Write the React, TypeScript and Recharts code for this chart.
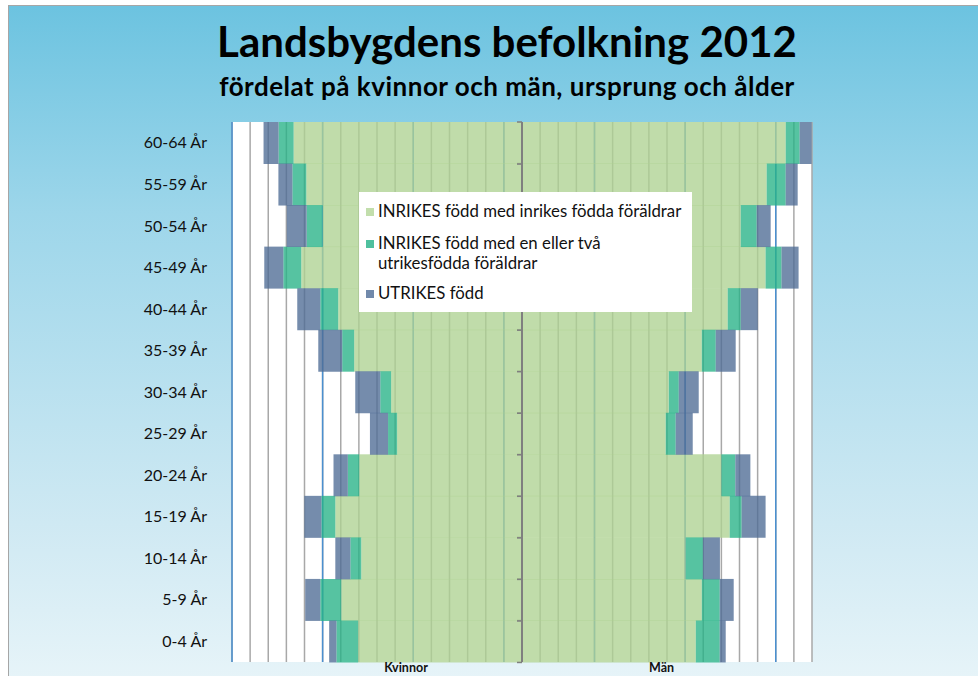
import React from 'react';
import {
  BarChart,
  Bar,
  XAxis,
  YAxis,
  CartesianGrid,
  ReferenceLine,
  Legend,
} from 'recharts';

const ageGroups = [
  '0-4 År', '5-9 År', '10-14 År', '15-19 År', '20-24 År', '25-29 År', '30-34 År',
  '35-39 År', '40-44 År', '45-49 År', '50-54 År', '55-59 År', '60-64 År',
];

// values, one grid step = 1
const womenNative = [9.04, 9.97, 8.87, 10.3, 8.98, 6.89, 7.22, 9.26, 10.14, 12.18, 11.0, 11.9, 12.6];
const womenMixed = [1.2, 1.16, 0.6, 0.77, 0.63, 0.5, 0.6, 0.66, 0.99, 0.99, 0.88, 0.77, 0.83];
const womenForeign = [0.4, 0.83, 0.83, 0.94, 0.79, 1.0, 1.38, 1.32, 1.27, 1.05, 1.1, 0.77, 0.83];

const menNative = [9.59, 9.92, 9.04, 11.46, 11.0, 7.93, 8.1, 9.92, 11.35, 13.44, 12.07, 13.5, 14.55];
const menMixed = [1.32, 0.99, 0.94, 0.66, 0.77, 0.55, 0.55, 0.77, 0.72, 0.88, 0.88, 1.05, 0.77];
const menForeign = [0.33, 0.77, 0.94, 1.32, 0.83, 0.94, 1.1, 1.1, 0.94, 0.94, 0.77, 0.66, 0.66];

const seriesNames = [
  'INRIKES född med inrikes födda föräldrar',
  'INRIKES född med en eller två utrikesfödda föräldrar',
  'UTRIKES född',
];
const seriesColors = ['#aed292', '#26b286', '#4e6c95'];
const legendColors = ['#c2deac', '#4fc09e', '#7189ab'];

const xDomain = [-16, 16];
const minorTicks = Array.from({ length: 33 }, (_, i) => i - 16);
const majorTicks = [-16, -11, -6, -1, 4, 9, 14];
const sideLabels = ['Kvinnor', 'Män'];
const sideTicks = [-6.4, 7.7];

const data = ageGroups.map((age, i) => ({
  age,
  wN: -womenNative[i],
  wM: -womenMixed[i],
  wF: -womenForeign[i],
  mN: menNative[i],
  mM: menMixed[i],
  mF: menForeign[i],
}));

const FONT = "Lato, 'Open Sans', sans-serif";
const BAR_OPACITY = 0.78;

// map grid values through the x axis scale (fallback: plot offset)
const gridAt = (values: number[]) => (props: any) => {
  const { xAxis, offset } = props;
  if (xAxis && typeof xAxis.scale === 'function') {
    return values.map((v) => xAxis.scale(v));
  }
  return values.map(
    (v) => offset.left + ((v - xDomain[0]) / (xDomain[1] - xDomain[0])) * offset.width,
  );
};

// innermost women bar also draws the small tick marks on the centre axis
const CenterTickBar = (props: any) => {
  const { x, y, width, height, fill, fillOpacity } = props;
  const left = Math.min(x, x + width);
  const w = Math.abs(width);
  const zero = left + w;
  return (
    <g>
      <rect x={left} y={y} width={w} height={height} fill={fill} fillOpacity={fillOpacity} />
      <line x1={zero - 5} y1={y} x2={zero} y2={y} stroke="#7f7f7f" strokeWidth={1.5} />
      <line x1={zero - 5} y1={y + height} x2={zero} y2={y + height} stroke="#7f7f7f" strokeWidth={1.5} />
    </g>
  );
};

const LegendBox = () => (
  <div
    style={{
      background: '#fff',
      width: 333,
      height: 120,
      boxSizing: 'border-box',
      padding: '9px 2px 0 7px',
      fontFamily: FONT,
      fontSize: 16.8,
      color: '#111',
      lineHeight: '20px',
    }}
  >
    {seriesNames.map((name, i) => (
      <div key={name} style={{ display: 'flex', alignItems: 'flex-start', marginBottom: i === 1 ? 10 : 12 }}>
        <span
          style={{
            display: 'inline-block',
            width: 8,
            height: 8,
            background: legendColors[i],
            marginTop: 7,
            marginRight: 4,
            flex: 'none',
          }}
        />
        <span style={{ width: i === 1 ? 250 : 322, whiteSpace: i === 1 ? 'normal' : 'nowrap' }}>{name}</span>
      </div>
    ))}
  </div>
);

export default function App() {
  return (
    <div
      style={{
        position: 'absolute',
        left: 0,
        top: 0,
        width: 978,
        height: 676,
        overflow: 'hidden',
        background: '#fff',
      }}
    >
      <div
        style={{
          position: 'absolute',
          left: 8,
          top: 5,
          width: 990,
          height: 690,
          border: '1px solid #a6a6a6',
          background: 'linear-gradient(180deg, #6cc3e0 0%, #9dd6ea 30%, #cfe9f3 75%, #e9f5f9 100%)',
        }}
      />
      <div
        style={{
          position: 'absolute',
          left: 0,
          top: 16,
          width: 1014,
          textAlign: 'center',
          fontFamily: FONT,
          fontWeight: 700,
          fontSize: 42,
          color: '#000',
        }}
      >
        Landsbygdens befolkning 2012
      </div>
      <div
        style={{
          position: 'absolute',
          left: 0,
          top: 70,
          width: 1014,
          textAlign: 'center',
          fontFamily: FONT,
          fontWeight: 700,
          fontSize: 26,
          letterSpacing: 0.5,
          color: '#000',
        }}
      >
        fördelat på kvinnor och män, ursprung och ålder
      </div>
      <div style={{ position: 'absolute', left: 0, top: 0 }}>
        <BarChart
          width={978}
          height={676}
          data={data}
          layout="vertical"
          stackOffset="sign"
          barCategoryGap={0}
          margin={{ top: 122, right: 166, bottom: 0, left: 0 }}
        >
          <XAxis
            type="number"
            domain={xDomain}
            ticks={sideTicks}
            tickFormatter={(v: number) => sideLabels[sideTicks.indexOf(v)]}
            axisLine={false}
            tickLine={false}
            tickSize={0}
            tickMargin={1}
            height={14}
            interval={0}
            tick={{ fontFamily: FONT, fontWeight: 700, fontSize: 12.5, fill: '#111' }}
          />
          <YAxis
            type="category"
            dataKey="age"
            reversed
            width={232}
            axisLine={false}
            tickLine={false}
            tickSize={0}
            tickMargin={25}
            interval={0}
            tick={{ fontFamily: FONT, fontSize: 16, fill: '#111' }}
          />
          <CartesianGrid
            horizontal={false}
            stroke="#a8a8a8"
            strokeWidth={1.5}
            fill="#fff"
            verticalCoordinatesGenerator={gridAt(minorTicks)}
          />
          <CartesianGrid
            horizontal={false}
            stroke="#4a90d0"
            strokeWidth={1.5}
            verticalCoordinatesGenerator={gridAt(majorTicks)}
          />
          <Bar dataKey="wN" stackId="p" fill={seriesColors[0]} fillOpacity={BAR_OPACITY} shape={CenterTickBar} isAnimationActive={false} />
          <Bar dataKey="wM" stackId="p" fill={seriesColors[1]} fillOpacity={BAR_OPACITY} isAnimationActive={false} />
          <Bar dataKey="wF" stackId="p" fill={seriesColors[2]} fillOpacity={BAR_OPACITY} isAnimationActive={false} />
          <Bar dataKey="mN" stackId="p" fill={seriesColors[0]} fillOpacity={BAR_OPACITY} isAnimationActive={false} />
          <Bar dataKey="mM" stackId="p" fill={seriesColors[1]} fillOpacity={BAR_OPACITY} isAnimationActive={false} />
          <Bar dataKey="mF" stackId="p" fill={seriesColors[2]} fillOpacity={BAR_OPACITY} isAnimationActive={false} />
          <ReferenceLine x={0} stroke="#7f7f7f" strokeWidth={2} />
          <Legend
            align="center"
            verticalAlign="middle"
            content={() => <LegendBox />}
            wrapperStyle={{ left: 359, top: 192, width: 333 }}
          />
        </BarChart>
      </div>
    </div>
  );
}
